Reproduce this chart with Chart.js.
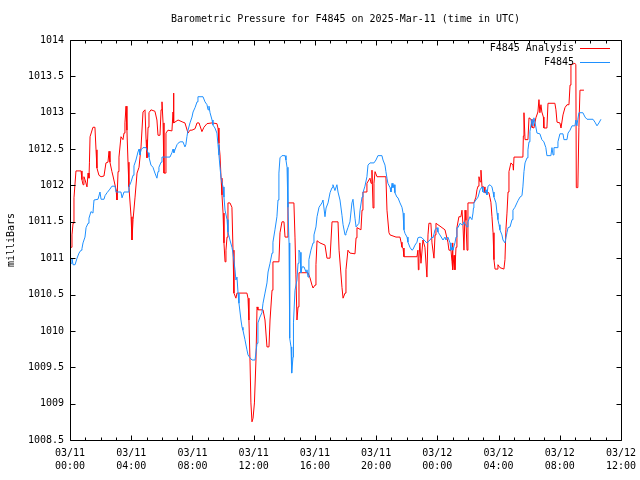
<!DOCTYPE html>
<html>
<head>
<meta charset="utf-8">
<script src="https://cdn.jsdelivr.net/npm/chart.js@4.4.0/dist/chart.umd.min.js"></script>
<style>
html, body { margin: 0; padding: 0; background: #fff; }
</style>
</head>
<body>
<canvas id="pressureChart" width="640" height="480"></canvas>
<script>
// hours since 03/11 00:00 UTC, pressure in millibars
const analysisHours = [
	0.07, 0.13, 0.20, 0.26, 0.39, 0.72, 0.78, 0.85, 0.91, 0.98,
	1.11, 1.18, 1.24, 1.27, 1.31, 1.50, 1.63, 1.70, 1.76, 1.89,
	2.03, 2.22, 2.35, 2.48, 2.55, 2.61, 2.74, 2.81, 3.01, 3.07,
	3.14, 3.20, 3.33, 3.46, 3.53, 3.59, 3.66, 3.72, 3.79, 3.85,
	3.99, 4.05, 4.12, 4.18, 4.25, 4.38, 4.51, 4.64, 4.77, 4.90,
	4.97, 5.03, 5.10, 5.16, 5.29, 5.55, 5.68, 5.75, 5.88, 5.95,
	6.01, 6.08, 6.14, 6.21, 6.27, 6.40, 6.66, 6.73, 6.76, 6.79,
	7.06, 7.38, 7.51, 7.71, 7.84, 7.97, 8.17, 8.30, 8.43, 8.62,
	8.75, 8.95, 9.28, 9.60, 9.67, 9.73, 9.80, 9.87, 9.93, 10.00,
	10.06, 10.13, 10.19, 10.26, 10.32, 10.45, 10.58, 10.65, 10.71, 10.84,
	10.91, 11.56, 11.63, 11.69, 11.76, 11.82, 11.89, 11.96, 12.05, 12.15,
	12.22, 12.28, 12.61, 12.74, 12.87, 13.00, 13.07, 13.20, 13.26, 13.65,
	13.72, 13.85, 13.98, 14.05, 14.18, 14.24, 14.63, 14.70, 14.76, 14.83,
	14.90, 14.96, 15.55, 15.68, 15.81, 15.88, 16.01, 16.07, 16.14, 16.33,
	16.66, 16.79, 16.99, 17.12, 17.51, 17.58, 17.77, 17.84, 17.97, 18.03,
	18.16, 18.29, 18.62, 18.69, 18.75, 19.01, 19.08, 19.14, 19.34, 19.40,
	19.60, 19.67, 19.73, 19.80, 19.86, 19.93, 20.06, 20.64, 20.71, 20.84,
	20.91, 21.30, 21.56, 21.63, 21.69, 21.76, 21.82, 22.67, 22.73, 22.76,
	22.80, 22.86, 22.93, 23.06, 23.19, 23.32, 23.39, 23.45, 23.58, 23.65,
	23.78, 23.85, 23.91, 24.04, 24.24, 24.50, 24.69, 24.76, 24.89, 24.96,
	24.99, 25.02, 25.09, 25.15, 25.22, 25.28, 25.41, 25.54, 25.61, 25.67,
	25.74, 25.81, 25.87, 25.94, 26.00, 26.39, 26.52, 26.59, 26.66, 26.72,
	26.79, 26.85, 26.92, 27.05, 27.11, 27.37, 27.44, 27.50, 27.57, 27.64,
	27.70, 27.77, 27.90, 27.96, 28.09, 28.35, 28.42, 28.48, 28.55, 28.62,
	28.68, 28.81, 28.94, 28.97, 29.01, 29.59, 29.62, 29.66, 29.73, 29.92,
	29.99, 30.12, 30.18, 30.31, 30.44, 30.57, 30.64, 30.70, 30.77, 30.83,
	30.93, 30.96, 31.16, 31.23, 31.68, 31.75, 31.82, 32.01, 32.08, 32.21,
	32.34, 32.47, 32.60, 32.67, 32.73, 32.99, 33.05, 33.08, 33.18, 33.25,
	33.32, 33.58
];
const analysisMb = [
	1011.15, 1011.32, 1011.48, 1011.83, 1012.20, 1012.20, 1012.08, 1012.01, 1012.12, 1012.08,
	1011.98, 1012.17, 1012.10, 1012.32, 1012.67, 1012.80, 1012.80, 1012.49, 1012.24, 1012.14,
	1012.12, 1012.13, 1012.31, 1012.32, 1012.47, 1012.32, 1012.19, 1012.13, 1011.94, 1011.80,
	1012.19, 1012.39, 1012.67, 1012.63, 1012.72, 1012.86, 1013.09, 1012.76, 1012.32, 1011.98,
	1011.57, 1011.25, 1011.53, 1011.53, 1011.84, 1012.17, 1012.25, 1012.53, 1013.01, 1013.04,
	1012.63, 1012.38, 1012.80, 1013.00, 1013.04, 1013.02, 1012.90, 1012.69, 1012.69, 1013.04,
	1013.15, 1012.86, 1012.17, 1012.17, 1012.72, 1012.76, 1012.75, 1013.01, 1013.27, 1012.86,
	1012.90, 1012.87, 1012.86, 1012.72, 1012.76, 1012.76, 1012.78, 1012.86, 1012.86, 1012.74,
	1012.80, 1012.85, 1012.86, 1012.85, 1012.79, 1012.58, 1012.42, 1012.10, 1011.87, 1011.62,
	1011.21, 1010.95, 1011.11, 1011.29, 1011.76, 1011.76, 1011.70, 1011.11, 1010.52, 1010.45,
	1010.52, 1010.52, 1010.45, 1010.15, 1009.60, 1009.01, 1008.75, 1008.80, 1009.01, 1009.60,
	1010.33, 1010.29, 1010.29, 1010.15, 1009.78, 1009.78, 1010.15, 1010.56, 1010.95, 1010.95,
	1011.35, 1011.50, 1011.50, 1011.29, 1011.29, 1011.76, 1011.76, 1011.29, 1010.77, 1010.15,
	1010.33, 1010.80, 1010.80, 1010.73, 1010.63, 1010.59, 1010.63, 1010.91, 1011.24, 1011.21,
	1011.18, 1011.00, 1011.00, 1011.50, 1011.50, 1011.11, 1010.60, 1010.45, 1010.52, 1010.84,
	1011.11, 1011.07, 1011.06, 1011.28, 1011.42, 1011.39, 1011.66, 1011.91, 1011.91, 1012.03,
	1012.10, 1012.03, 1012.21, 1011.69, 1012.03, 1012.19, 1012.12, 1012.12, 1011.66, 1011.35,
	1011.32, 1011.29, 1011.29, 1011.22, 1011.15, 1011.14, 1011.02, 1011.02, 1011.11, 1010.84,
	1011.00, 1011.21, 1010.93, 1011.25, 1011.15, 1010.74, 1011.32, 1011.48, 1011.48, 1011.21,
	1011.00, 1011.32, 1011.48, 1011.46, 1011.43, 1011.39, 1011.22, 1011.11, 1011.11, 1010.95,
	1011.21, 1010.84, 1011.04, 1010.84, 1011.15, 1011.42, 1011.57, 1011.57, 1011.66, 1011.48,
	1011.11, 1011.66, 1011.52, 1011.11, 1011.76, 1011.76, 1011.84, 1011.94, 1011.99, 1012.12,
	1012.05, 1012.21, 1011.98, 1011.98, 1011.90, 1011.90, 1011.83, 1011.77, 1011.57, 1011.35,
	1010.98, 1010.85, 1010.85, 1010.91, 1010.87, 1010.85, 1010.98, 1011.39, 1011.62, 1011.91,
	1012.19, 1012.31, 1012.28, 1012.21, 1012.39, 1012.39, 1012.68, 1013.00, 1012.63, 1012.63,
	1012.93, 1012.91, 1012.80, 1012.79, 1012.93, 1013.01, 1013.18, 1013.00, 1013.11, 1013.01,
	1012.94, 1012.79, 1012.79, 1013.13, 1013.13, 1013.04, 1012.87, 1012.86, 1012.79, 1012.97,
	1013.07, 1013.11, 1013.11, 1013.38, 1013.66, 1013.68, 1013.66, 1011.97, 1011.97, 1012.80,
	1013.31, 1013.31
];

const stationHours = [
	0.07, 0.13, 0.20, 0.33, 0.46, 0.59, 0.72, 0.78, 0.85, 0.98,
	1.05, 1.18, 1.24, 1.37, 1.50, 1.54, 1.57, 1.83, 1.96, 2.03,
	2.22, 2.29, 2.42, 2.61, 2.74, 2.94, 3.01, 3.33, 3.40, 3.53,
	3.79, 3.85, 3.99, 4.12, 4.18, 4.31, 4.44, 4.51, 4.57, 4.64,
	4.77, 4.97, 5.10, 5.16, 5.29, 5.42, 5.55, 5.68, 5.75, 5.81,
	5.95, 6.01, 6.53, 6.66, 6.73, 6.79, 6.86, 6.99, 7.06, 7.19,
	7.38, 7.51, 7.57, 7.64, 7.71, 7.84, 7.97, 8.04, 8.17, 8.30,
	8.36, 8.69, 8.82, 8.95, 9.02, 9.08, 9.15, 9.28, 9.34, 9.47,
	9.60, 9.67, 9.73, 9.80, 9.87, 10.00, 10.06, 10.13, 10.26, 10.32,
	10.45, 10.58, 10.65, 10.78, 10.84, 10.91, 10.98, 11.04, 11.17, 11.24,
	11.30, 11.43, 11.56, 11.63, 11.76, 11.89, 12.09, 12.22, 12.28, 12.41,
	12.54, 12.61, 12.74, 12.87, 12.94, 13.07, 13.20, 13.26, 13.39, 13.52,
	13.59, 13.65, 13.72, 13.85, 14.05, 14.11, 14.18, 14.24, 14.31, 14.34,
	14.37, 14.44, 14.47, 14.50, 14.57, 14.60, 14.70, 14.83, 14.90, 14.96,
	15.03, 15.09, 15.16, 15.29, 15.42, 15.48, 15.55, 15.61, 15.74, 15.88,
	15.94, 16.07, 16.14, 16.27, 16.46, 16.53, 16.66, 16.73, 16.86, 16.99,
	17.12, 17.18, 17.31, 17.44, 17.51, 17.64, 17.77, 17.84, 17.97, 18.03,
	18.16, 18.29, 18.42, 18.49, 18.62, 18.69, 18.88, 18.95, 19.08, 19.14,
	19.27, 19.40, 19.47, 19.60, 19.86, 19.99, 20.12, 20.38, 20.45, 20.58,
	20.64, 20.71, 20.77, 20.91, 20.97, 21.04, 21.10, 21.17, 21.23, 21.36,
	21.43, 21.56, 21.69, 21.76, 21.82, 21.89, 22.02, 22.08, 22.21, 22.34,
	22.41, 22.54, 22.67, 22.73, 22.87, 23.00, 23.13, 23.32, 23.52, 23.65,
	23.72, 23.85, 23.98, 24.04, 24.17, 24.37, 24.50, 24.56, 24.69, 24.83,
	24.89, 24.96, 25.02, 25.15, 25.22, 25.28, 25.35, 25.48, 25.61, 25.67,
	25.74, 25.81, 25.94, 26.00, 26.13, 26.26, 26.33, 26.36, 26.39, 26.52,
	26.66, 26.79, 26.92, 26.98, 27.11, 27.18, 27.24, 27.31, 27.44, 27.57,
	27.64, 27.70, 27.83, 27.90, 27.96, 28.03, 28.09, 28.22, 28.29, 28.42,
	28.48, 28.55, 28.62, 28.75, 28.88, 28.94, 29.07, 29.20, 29.27, 29.40,
	29.53, 29.59, 29.66, 29.73, 29.86, 29.92, 29.99, 30.05, 30.18, 30.25,
	30.31, 30.38, 30.51, 30.70, 30.83, 30.96, 31.09, 31.16, 31.42, 31.49,
	31.56, 31.62, 31.82, 31.88, 32.01, 32.21, 32.27, 32.47, 32.54, 32.67,
	32.80, 32.99, 33.05, 33.12, 33.18, 33.25, 33.51, 33.65, 33.78, 34.17,
	34.30, 34.43, 34.56, 34.69
];
const stationMb = [
	1010.93, 1011.00, 1010.91, 1010.91, 1011.00, 1011.07, 1011.11, 1011.13, 1011.21, 1011.29,
	1011.42, 1011.48, 1011.55, 1011.64, 1011.62, 1011.73, 1011.80, 1011.81, 1011.91, 1011.81,
	1011.81, 1011.86, 1011.90, 1011.95, 1011.99, 1011.99, 1011.91, 1011.91, 1011.83, 1011.91,
	1011.91, 1011.98, 1012.05, 1012.14, 1012.27, 1012.35, 1012.46, 1012.50, 1012.42, 1012.49,
	1012.52, 1012.52, 1012.45, 1012.39, 1012.28, 1012.25, 1012.17, 1012.10, 1012.19, 1012.25,
	1012.32, 1012.39, 1012.39, 1012.45, 1012.50, 1012.45, 1012.49, 1012.56, 1012.58, 1012.60,
	1012.60, 1012.53, 1012.56, 1012.67, 1012.76, 1012.86, 1012.94, 1013.01, 1013.07, 1013.15,
	1013.22, 1013.22, 1013.15, 1013.11, 1013.04, 1013.09, 1013.00, 1012.90, 1012.83, 1012.79,
	1012.72, 1012.56, 1012.42, 1012.25, 1012.10, 1011.98, 1011.84, 1011.66, 1011.53, 1011.36,
	1011.25, 1011.15, 1011.07, 1010.84, 1010.70, 1010.74, 1010.52, 1010.38, 1010.15, 1010.05,
	1010.01, 1009.88, 1009.74, 1009.67, 1009.63, 1009.60, 1009.60, 1009.83, 1010.11, 1010.19,
	1010.25, 1010.38, 1010.52, 1010.66, 1010.81, 1010.93, 1011.07, 1011.22, 1011.39, 1011.57,
	1011.80, 1012.17, 1012.38, 1012.41, 1012.41, 1012.35, 1012.25, 1011.70, 1011.21, 1010.47,
	1009.90, 1009.78, 1009.50, 1009.42, 1009.64, 1010.11, 1010.56, 1010.70, 1010.93, 1011.11,
	1011.08, 1010.80, 1010.88, 1010.88, 1010.81, 1010.84, 1010.74, 1010.98, 1011.11, 1011.21,
	1011.32, 1011.43, 1011.57, 1011.70, 1011.76, 1011.80, 1011.57, 1011.69, 1011.76, 1011.90,
	1011.97, 1012.01, 1011.93, 1012.01, 1011.91, 1011.80, 1011.59, 1011.46, 1011.32, 1011.34,
	1011.42, 1011.50, 1011.76, 1011.81, 1011.55, 1011.43, 1011.48, 1011.66, 1011.84, 1011.90,
	1011.99, 1012.12, 1012.28, 1012.31, 1012.31, 1012.35, 1012.41, 1012.41, 1012.35, 1012.28,
	1012.19, 1012.10, 1012.03, 1011.97, 1011.91, 1012.03, 1011.97, 1012.01, 1011.90, 1011.84,
	1011.83, 1011.76, 1011.70, 1011.62, 1011.39, 1011.34, 1011.29, 1011.22, 1011.15, 1011.11,
	1011.12, 1011.18, 1011.22, 1011.28, 1011.29, 1011.28, 1011.25, 1011.21, 1011.25, 1011.29,
	1011.28, 1011.39, 1011.42, 1011.36, 1011.32, 1011.25, 1011.29, 1011.25, 1011.29, 1011.21,
	1011.11, 1011.15, 1011.11, 1011.21, 1011.29, 1011.42, 1011.42, 1011.48, 1011.46, 1011.46,
	1011.50, 1011.47, 1011.43, 1011.50, 1011.57, 1011.53, 1011.62, 1011.69, 1011.76, 1011.80,
	1011.84, 1011.94, 1011.98, 1011.91, 1011.90, 1011.94, 1011.87, 1011.99, 1012.01, 1011.98,
	1011.91, 1011.84, 1011.76, 1011.62, 1011.53, 1011.46, 1011.39, 1011.32, 1011.25, 1011.21,
	1011.28, 1011.35, 1011.42, 1011.43, 1011.53, 1011.66, 1011.70, 1011.76, 1011.79, 1011.84,
	1011.86, 1011.98, 1012.19, 1012.31, 1012.38, 1012.49, 1012.60, 1012.74, 1012.91, 1012.82,
	1012.93, 1012.87, 1012.72, 1012.71, 1012.63, 1012.60, 1012.52, 1012.41, 1012.41, 1012.52,
	1012.42, 1012.52, 1012.52, 1012.60, 1012.71, 1012.71, 1012.63, 1012.63, 1012.72, 1012.76,
	1012.82, 1012.82, 1012.90, 1012.82, 1012.91, 1013.00, 1013.00, 1012.94, 1012.91, 1012.91,
	1012.87, 1012.82, 1012.86, 1012.91
];

// x axis: 03/11 00:00 .. 03/12 12:00, labelled every 4 hours
const xMin = 0, xMax = 36, xStep = 4;
const yMin = 1008.5, yMax = 1014, yStep = 0.5;
const seriesLabels = ['F4845 Analysis', 'F4845'];
const seriesColors = ['#ff0000', '#1e90ff'];

const monoFont = { family: '"DejaVu Sans Mono", "Liberation Mono", monospace', size: 10, weight: 'normal' };

function toPoints(hours, values) {
	return hours.map((h, i) => ({ x: h, y: values[i] }));
}

function tickLabel(h) {
	const day = 11 + Math.floor(h / 24);
	const hh = String(h % 24).padStart(2, '0');
	return ['03/' + day, hh + ':00'];
}

// gnuplot-like frame: box, inward ticks, legend on the right
const framePlugin = {
	id: 'frame',
	afterDraw(chart) {
		const { ctx, chartArea: a, scales } = chart;
		const xs = scales.x, ys = scales.y;
		const L = Math.round(a.left) + 0.5, R = Math.round(a.right) + 0.5;
		const T = Math.round(a.top) + 0.5, B = Math.round(a.bottom) + 0.5;
		ctx.save();
		ctx.strokeStyle = '#000';
		ctx.lineWidth = 1;
		ctx.beginPath();
		ctx.rect(L, T, R - L, B - T);
		for (let h = xMin; h <= xMax; h++) {
			const px = Math.round(xs.getPixelForValue(h)) + 0.5;
			const len = h % xStep === 0 ? 5 : 3;
			ctx.moveTo(px, B); ctx.lineTo(px, B - len);
			ctx.moveTo(px, T); ctx.lineTo(px, T + len);
		}
		ys.ticks.forEach(t => {
			const py = Math.round(ys.getPixelForValue(t.value)) + 0.5;
			ctx.moveTo(L, py); ctx.lineTo(L + 5, py);
			ctx.moveTo(R, py); ctx.lineTo(R - 5, py);
		});
		ctx.stroke();

		ctx.font = '10px ' + monoFont.family;
		ctx.textAlign = 'right';
		ctx.textBaseline = 'middle';
		chart.data.datasets.forEach((ds, i) => {
			const ly = 48.5 + i * 14;
			ctx.fillStyle = '#000';
			ctx.fillText(ds.label, 574, ly);
			ctx.strokeStyle = ds.borderColor;
			ctx.beginPath();
			ctx.moveTo(580, ly); ctx.lineTo(610, ly);
			ctx.stroke();
		});
		ctx.restore();
	}
};

const ctx = document.getElementById('pressureChart').getContext('2d');
new Chart(ctx, {
	type: 'line',
	data: {
		datasets: [{
			label: seriesLabels[0],
			data: toPoints(analysisHours, analysisMb),
			borderColor: seriesColors[0],
			borderWidth: 1,
			pointRadius: 0,
			tension: 0,
			order: 2
		}, {
			label: seriesLabels[1],
			data: toPoints(stationHours, stationMb),
			borderColor: seriesColors[1],
			borderWidth: 1,
			pointRadius: 0,
			tension: 0,
			order: 1
		}]
	},
	options: {
		responsive: false,
		animation: false,
		events: [],
		layout: { padding: { left: 0, right: 19, top: 0, bottom: 0 } },
		plugins: {
			legend: { display: false },
			tooltip: { enabled: false },
			title: {
				display: true,
				text: 'Barometric Pressure for F4845 on 2025-Mar-11 (time in UTC)',
				fullSize: false,
				color: '#000',
				font: monoFont,
				padding: { top: 13, bottom: 15 }
			}
		},
		scales: {
			x: {
				type: 'linear',
				min: xMin,
				max: xMax,
				grid: { display: false, drawTicks: false },
				border: { display: false },
				afterFit: s => { s.height = 40; s.paddingLeft = 0; s.paddingRight = 0; },
				ticks: {
					stepSize: xStep,
					autoSkip: false,
					maxRotation: 0,
					padding: 7,
					color: '#000',
					font: { ...monoFont, lineHeight: 1.3 },
					callback: v => tickLabel(v)
				}
			},
			y: {
				min: yMin,
				max: yMax,
				grid: { display: false, drawTicks: false },
				border: { display: false },
				afterFit: s => { s.width = 70; },
				title: {
					display: true,
					text: 'milliBars',
					color: '#000',
					font: monoFont,
					padding: { top: 5, bottom: 0 }
				},
				ticks: {
					stepSize: yStep,
					padding: 6,
					color: '#000',
					font: monoFont,
					callback: v => String(v)
				}
			}
		}
	},
	plugins: [framePlugin]
});
</script>
</body>
</html>
